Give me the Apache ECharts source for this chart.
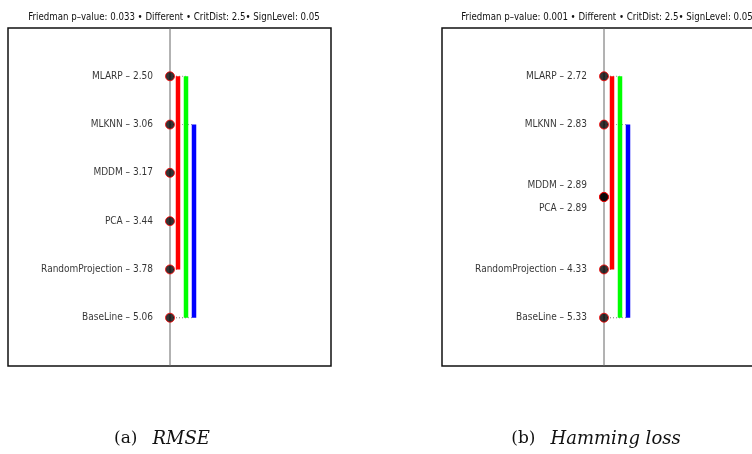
<!DOCTYPE html>
<html>
<head>
<meta charset="utf-8">
<script src="https://cdn.jsdelivr.net/npm/echarts@6/dist/echarts.min.js"></script>
<style>
html, body { margin: 0; padding: 0; background: #fff; }
#main { width: 752px; height: 454px; }
</style>
</head>
<body>
<div id="main"></div>
<script>
// methods in rank order, average ranks per panel
var methodsA = ['MLARP', 'MLKNN', 'MDDM', 'PCA', 'RandomProjection', 'BaseLine'];
var ranksA = [2.50, 3.06, 3.17, 3.44, 3.78, 5.06];
var methodsB = ['MLARP', 'MLKNN', 'MDDM', 'PCA', 'RandomProjection', 'BaseLine'];
var ranksB = [2.72, 2.83, 2.89, 2.89, 4.33, 5.33];
// groups not significantly different: [first index, last index]
var cliquesA = [[0, 4], [0, 5], [1, 5]];
var cliquesB = [[0, 4], [0, 5], [1, 5]];
var titleA = 'Friedman p\u2013value: 0.033 \u2022 Different \u2022 CritDist: 2.5\u2022 SignLevel: 0.05';
var titleB = 'Friedman p\u2013value: 0.001 \u2022 Different \u2022 CritDist: 2.5\u2022 SignLevel: 0.05';
var captionA = ['(a)', 'RMSE'];
var captionB = ['(b)', 'Hamming loss'];

var font = "'DejaVu Sans Condensed', 'Liberation Sans Narrow', sans-serif";
var cliqueColors = ['#ff0000', '#00ff00', '#0000ff'];

// order position of each method, ties share the average position
function positions(ranks){
	return ranks.map(function(r){
		var less = 0, same = 0;
		ranks.forEach(function(o){
			if(o < r) less++;
			else if(o === r) same++;
		});
		return less + (same + 1) / 2;
	});
}

function panelSeries(idx, methods, ranks, cliques){
	var pos = positions(ranks);
	var list = [];
	// vertical axis line
	list.push({
		type: 'line', xAxisIndex: idx, yAxisIndex: idx, symbol: 'none', silent: true,
		data: [[0, 0], [0, 7]],
		lineStyle: {color: '#666', width: 1}, z: 1
	});
	cliques.forEach(function(c, k){
		var bx = 8 * (k + 1);
		var s = pos[c[0]], e = pos[c[1]];
		list.push({
			type: 'line', xAxisIndex: idx, yAxisIndex: idx, symbol: 'none', silent: true,
			data: [[0, s], [bx, s]],
			lineStyle: {color: '#999', width: 1, type: [1, 2]}, z: 2
		});
		list.push({
			type: 'line', xAxisIndex: idx, yAxisIndex: idx, symbol: 'none', silent: true,
			data: [[0, e], [bx, e]],
			lineStyle: {color: '#999', width: 1, type: [1, 2]}, z: 2
		});
		list.push({
			type: 'line', xAxisIndex: idx, yAxisIndex: idx, symbol: 'none', silent: true,
			data: [[bx, s], [bx, e]],
			lineStyle: {color: cliqueColors[k], width: 4.5, cap: 'butt'}, z: 3
		});
	});
	var pts = methods.map(function(m, i){
		var tied = [];
		pos.forEach(function(p, j){ if(p === pos[i]) tied.push(j); });
		var off = (tied.indexOf(i) - (tied.length - 1) / 2) * 23;
		return {
			name: m, value: [0, pos[i]], rank: ranks[i],
			label: {offset: [0, off]}
		};
	});
	list.push({
		type: 'scatter', xAxisIndex: idx, yAxisIndex: idx, silent: true,
		symbol: 'circle', symbolSize: 9,
		itemStyle: {color: '#000', borderColor: '#ff0000', borderWidth: 1},
		label: {
			show: true, position: 'left', distance: 12,
			fontFamily: font, fontSize: 10, color: '#000',
			formatter: function(p){
				return p.name + ' \u2013 ' + p.data.rank.toFixed(2);
			}
		},
		data: pts, z: 5
	});
	return list;
}

function xAxisCfg(idx){
	return {
		type: 'value', gridIndex: idx, min: -162, max: 161,
		axisLine: {show: false}, axisTick: {show: false},
		axisLabel: {show: false}, splitLine: {show: false}
	};
}
function yAxisCfg(idx){
	return {
		type: 'value', gridIndex: idx, min: 0, max: 7, inverse: true,
		axisLine: {show: false}, axisTick: {show: false},
		axisLabel: {show: false}, splitLine: {show: false}
	};
}
function captionCfg(cap, cx){
	return {
		text: '{a|' + cap[0] + '}   {b|' + cap[1] + '}',
		left: cx, top: 425, textAlign: 'center',
		textStyle: {
			fontWeight: 'normal',
			rich: {
				a: {fontFamily: "'DejaVu Serif', serif", fontSize: 17, fontWeight: 'normal', color: '#111'},
				b: {fontFamily: "'DejaVu Serif', serif", fontSize: 18, fontWeight: 'normal', fontStyle: 'italic', color: '#111'}
			}
		}
	};
}

var myChart = echarts.init(document.getElementById('main'));
var option = {
	animation: false,
	backgroundColor: '#fff',
	title: [
		{text: titleA, left: 169, top: 7, textAlign: 'center',
			textStyle: {fontFamily: font, fontSize: 9.6, fontWeight: 'normal', color: '#111'}},
		{text: titleB, left: 602, top: 7, textAlign: 'center',
			textStyle: {fontFamily: font, fontSize: 9.6, fontWeight: 'normal', color: '#111'}},
		captionCfg(captionA, 157),
		captionCfg(captionB, 591)
	],
	grid: [
		{left: 8, top: 28, width: 323, height: 338, outerBoundsMode: 'none', show: true, borderColor: '#111', borderWidth: 1.5, backgroundColor: 'transparent'},
		{left: 442, top: 28, width: 323, height: 338, outerBoundsMode: 'none', show: true, borderColor: '#111', borderWidth: 1.5, backgroundColor: 'transparent'}
	],
	xAxis: [xAxisCfg(0), xAxisCfg(1)],
	yAxis: [yAxisCfg(0), yAxisCfg(1)],
	series: panelSeries(0, methodsA, ranksA, cliquesA).concat(panelSeries(1, methodsB, ranksB, cliquesB))
};
myChart.setOption(option);
</script>
</body>
</html>
